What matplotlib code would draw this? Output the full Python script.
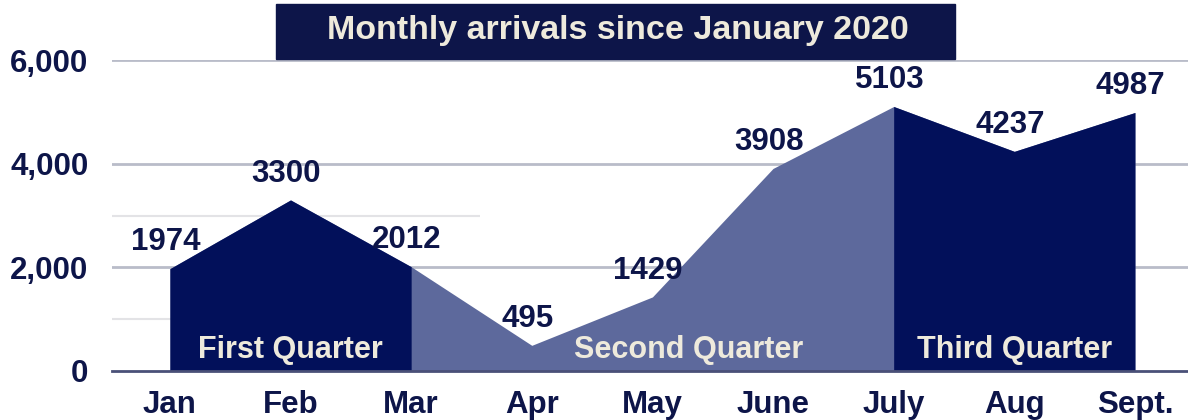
import matplotlib.pyplot as plt
from matplotlib.patches import Rectangle

# Monthly arrivals, Jan-Sept 2020
months = ['Jan', 'Feb', 'Mar', 'Apr', 'May', 'June', 'July', 'Aug', 'Sept.']
arrivals = [1974, 3300, 2012, 495, 1429, 3908, 5103, 4237, 4987]
quarters = ['First Quarter', 'Second Quarter', 'Third Quarter']
dark_spans = [(0, 2), (6, 8)]  # month index ranges shaded dark
y_ticks = [0, 2000, 4000, 6000]
y_minor = [1000, 3000]

navy = '#0d1549'
dark_fill = '#02105a'
light_fill = '#5d699c'
cream = '#eeeadc'

plt.rcParams['font.family'] = ['Liberation Sans', 'DejaVu Sans']
plt.rcParams['font.weight'] = 'bold'

fig = plt.figure(figsize=(11.88, 4.2), dpi=100)
ax = fig.add_axes([112 / 1188, 49 / 420, 1 - 112 / 1188, 311 / 420])

x = list(range(len(months)))

# grid
for v in y_ticks[1:]:
    ax.axhline(v, color='#b9bcc9', lw=2, zorder=0)
ax.hlines(y_minor, -0.48, 2.57, color='#e3e3e6', lw=1.5, zorder=0)

# whole area, then darker quarters over it
ax.fill_between(x, arrivals, 0, color=light_fill, lw=0, zorder=1)
for a, b in dark_spans:
    ax.fill_between(x[a:b + 1], arrivals[a:b + 1], 0, color=dark_fill, lw=0, zorder=2)

# value labels
for xi, v in zip(x, arrivals):
    ax.annotate(str(v), (xi, v), xytext=(-3, 19), textcoords='offset points',
                ha='center', va='center', fontsize=22.5, color=navy, zorder=4)

# quarter labels
quarter_x = [1, 4.3, 7]
for qx, q in zip(quarter_x, quarters):
    ax.text(qx, 400, q, ha='center', va='center', fontsize=22, color=cream, zorder=5)

ax.set_xlim(-0.48, 8.44)
ax.set_ylim(0, 6000)
ax.set_xticks(x)
ax.set_xticklabels(months)
ax.set_yticks(y_ticks)
ax.set_yticklabels([f'{v:,}' for v in y_ticks])
ax.tick_params(axis='both', length=0, labelsize=22.5, labelcolor=navy)
ax.tick_params(axis='y', pad=17)
ax.tick_params(axis='x', pad=14)

for s in ['top', 'right', 'left']:
    ax.spines[s].set_visible(False)
ax.spines['bottom'].set_color('#4a5078')
ax.spines['bottom'].set_linewidth(2)
ax.spines['bottom'].set_zorder(3)

# title box
fig.patches.append(Rectangle((276 / 1188, 361 / 420), 679 / 1188, 55 / 420,
                             transform=fig.transFigure, color=navy, zorder=0))
fig.text(618 / 1188, 1 - 31 / 420, 'Monthly arrivals since January 2020',
         ha='center', va='center', fontsize=24.5, color=cream)

fig.savefig('out.png', dpi=100)
